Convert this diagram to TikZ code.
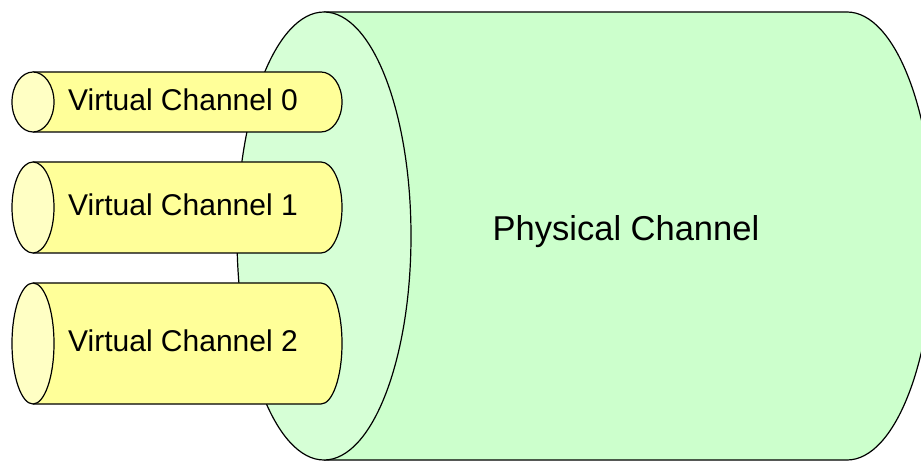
\documentclass[tikz,border=0pt]{standalone}
\usepackage{fontspec}
\setmainfont{Liberation Sans}
\definecolor{bodygreen}{HTML}{CCFFCC}
\definecolor{facegreen}{HTML}{D6FFD6}
\definecolor{bodyyellow}{HTML}{FFFF99}
\definecolor{faceyellow}{HTML}{FFFFC4}
\begin{document}
\begin{tikzpicture}[x=1pt,y=1pt,
  outline/.style={draw=black,line width=1.2pt,line join=round},
  vclabel/.style={anchor=west,inner sep=0pt,font=\fontsize{30}{36}\selectfont},
  pclabel/.style={inner sep=0pt,font=\fontsize{34.5}{40}\selectfont}]
\useasboundingbox (0,0) rectangle (921,461);
\clip (0,0) rectangle (921,461);
% physical channel body
\fill[bodygreen] (324,449) -- (847,449) arc[start angle=90,end angle=-90,x radius=87pt,y radius=224pt] -- (324,1) -- cycle;
\draw[outline] (324,449) -- (847,449) arc[start angle=90,end angle=-90,x radius=87pt,y radius=224pt] -- (324,1);
% front face
\draw[outline,fill=facegreen] (324,225) ellipse [x radius=87pt,y radius=224pt];
\node[pclabel] (pc) at (626,229) {Physical Channel};
% virtual channels
\foreach \cy/\ry/\n in {359/30/0, 253.5/45.5/1, 117.5/60.5/2}{
  \fill[bodyyellow] (33,\cy+\ry) -- (321,\cy+\ry) arc[start angle=90,end angle=-90,x radius=21pt,y radius=\ry pt] -- (33,\cy-\ry) -- cycle;
  \draw[outline] (33,\cy+\ry) -- (321,\cy+\ry) arc[start angle=90,end angle=-90,x radius=21pt,y radius=\ry pt] -- (33,\cy-\ry);
  \draw[outline,fill=faceyellow] (33,\cy) ellipse [x radius=21pt,y radius=\ry pt];
  \node[vclabel] (vc\n) at (68,\cy+2.5) {Virtual Channel \n};
}
\end{tikzpicture}
\end{document}
